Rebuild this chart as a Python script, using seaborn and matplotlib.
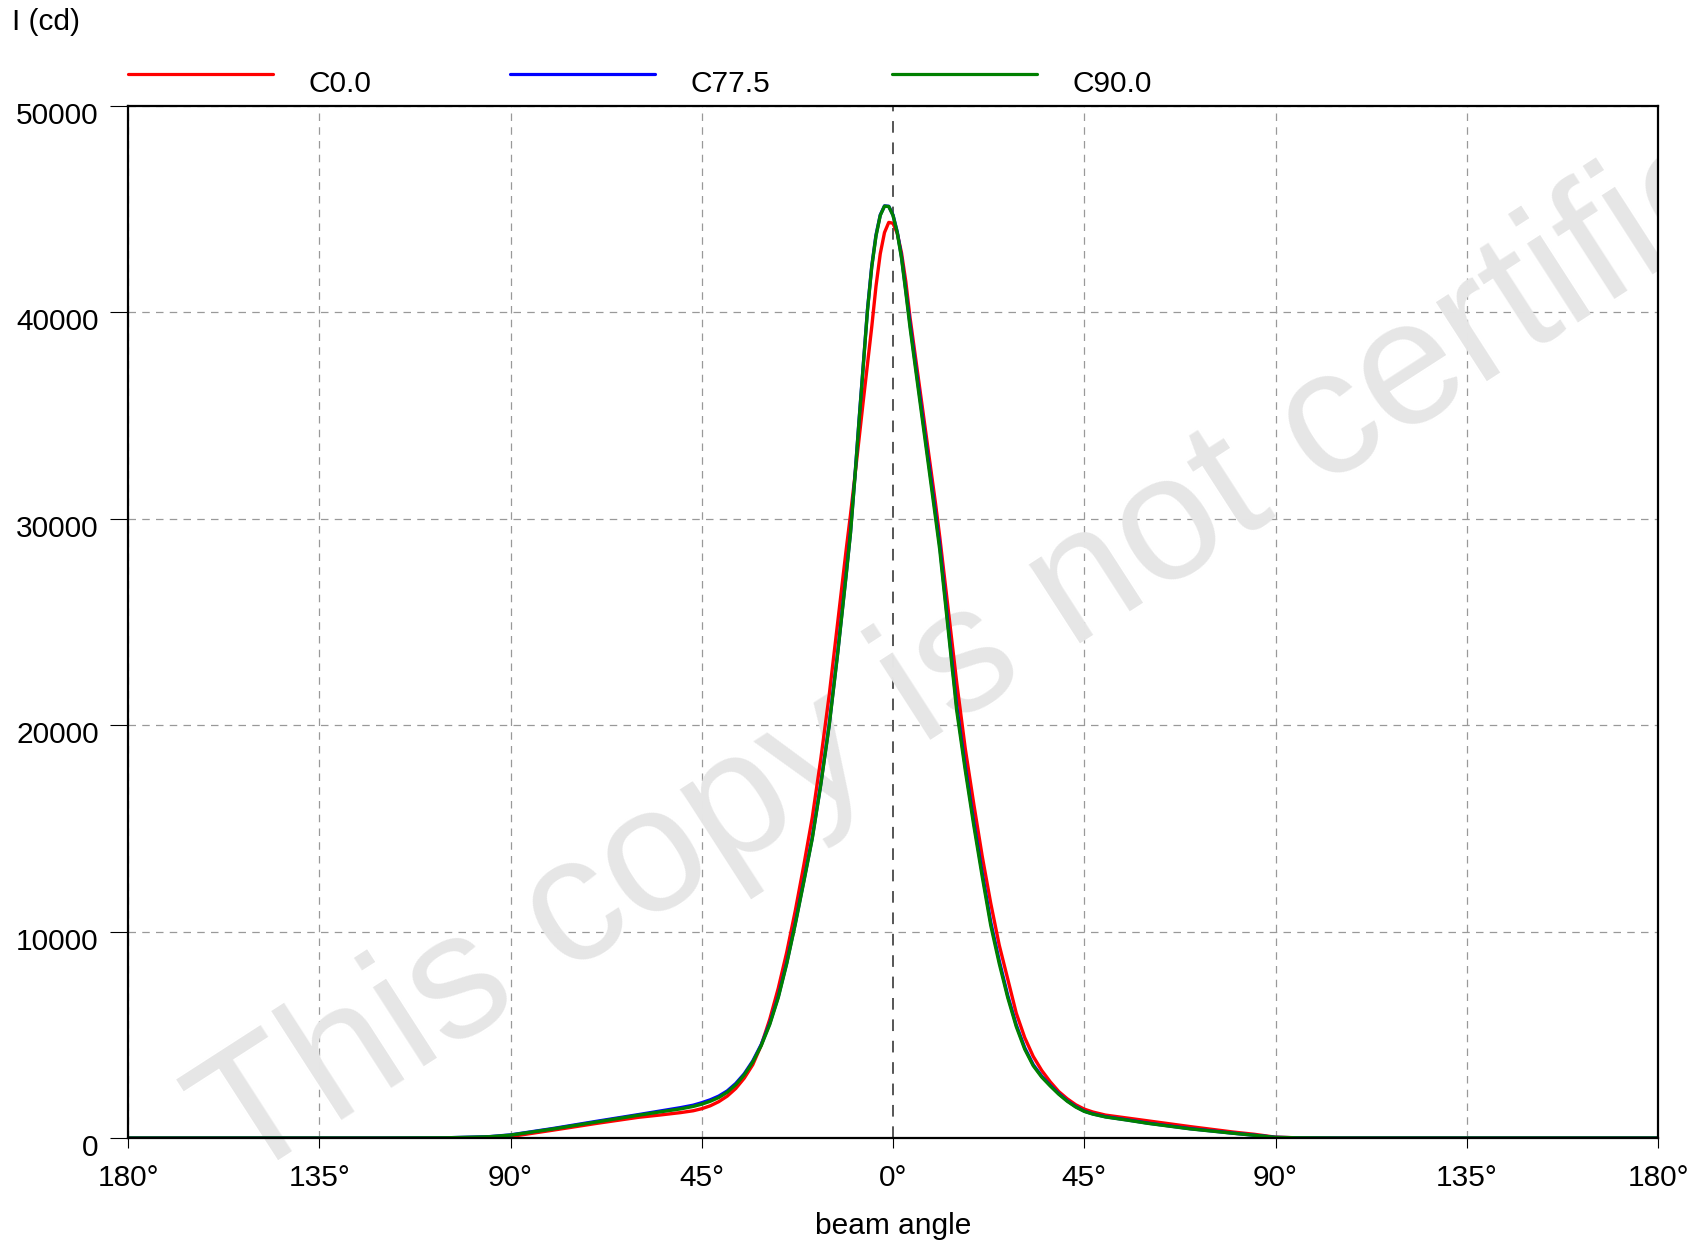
import numpy as np
import pandas as pd
import matplotlib
matplotlib.use('Agg')
import matplotlib.pyplot as plt
import matplotlib.transforms as mtransforms
from matplotlib.lines import Line2D
import seaborn as sns

# beam angle (deg), left half of chart = negative side
angles = [-180, -150, -120, -105, -95, -90, -80, -70, -60, -55,
          -50, -47, -45, -43, -41, -39, -37, -35, -33, -31,
          -29, -27, -25, -23, -21, -19, -17, -15, -13, -11,
          -10, -9, -8, -7, -6, -5, -4, -3, -2, -1,
          0, 1, 2, 3, 4, 5, 6, 7, 8, 9,
          10, 11, 13, 15, 17, 19, 21, 23, 25, 27,
          29, 31, 33, 35, 37, 39, 41, 43, 45, 47,
          50, 55, 60, 70, 80, 85, 90, 95, 105, 120,
          150, 180]

# intensity in cd
c0 = [0, 0, 0, 5, 20, 70, 380, 700, 1000, 1110,
      1230, 1320, 1420, 1560, 1760, 2030, 2400, 2900, 3550, 4500,
      5750, 7250, 9000, 11000, 13200, 15520, 18350, 21480, 25000, 28530,
      30200, 32000, 33850, 35700, 37500, 39300, 41270, 42840, 43870, 44360,
      44320, 43830, 42890, 41510, 39760, 38260, 36760, 35260, 33750, 32250,
      30750, 29120, 25590, 22050, 18870, 16190, 13640, 11370, 9340, 7700,
      6050, 4860, 3950, 3270, 2720, 2250, 1900, 1610, 1400, 1260,
      1110, 970, 830, 550, 290, 180, 40, 10, 0, 0,
      0, 0]
c775 = [0, 0, 0, 10, 65, 150, 460, 800, 1130, 1300,
        1470, 1590, 1710, 1850, 2030, 2280, 2640, 3110, 3730, 4530,
        5550, 6850, 8500, 10400, 12450, 14550, 17150, 20050, 23550, 27350,
        29350, 31950, 34750, 37450, 40150, 42250, 43750, 44720, 45160, 45140,
        44720, 43900, 42700, 41100, 39450, 37900, 36380, 34850, 33320, 31800,
        30260, 28700, 24800, 20900, 18000, 15330, 12830, 10450, 8580, 6900,
        5480, 4370, 3550, 2990, 2550, 2150, 1800, 1520, 1300, 1170,
        1030, 880, 720, 450, 235, 135, 32, 10, 0, 0,
        0, 0]
c90 = [0, 0, 0, 10, 60, 140, 440, 770, 1100, 1260,
       1410, 1530, 1640, 1780, 1960, 2220, 2580, 3060, 3680, 4480,
       5500, 6800, 8450, 10350, 12400, 14500, 17100, 20000, 23500, 27300,
       29300, 31900, 34700, 37400, 40100, 42200, 43700, 44700, 45150, 45130,
       44700, 43860, 42630, 41000, 39280, 37740, 36200, 34670, 33130, 31600,
       30060, 28500, 24600, 20700, 17820, 15150, 12660, 10300, 8450, 6800,
       5400, 4300, 3500, 2950, 2520, 2120, 1780, 1500, 1290, 1160,
       1020, 870, 710, 440, 230, 130, 30, 10, 0, 0,
       0, 0]

planes = ['C0.0', 'C77.5', 'C90.0']
colors = ['#ff0000', '#0000ff', '#008000']
xticks = [-180, -135, -90, -45, 0, 45, 90, 135, 180]
yticks = [0, 10000, 20000, 30000, 40000, 50000]

df = pd.DataFrame({
    'angle': angles * 3,
    'cd': c0 + c775 + c90,
    'plane': np.repeat(planes, len(angles)),
})

sns.set_theme(style='white')
plt.rcParams['font.family'] = ['Liberation Sans', 'DejaVu Sans']
plt.rcParams['text.color'] = 'black'
plt.rcParams['axes.labelcolor'] = 'black'
plt.rcParams['xtick.color'] = 'black'
plt.rcParams['ytick.color'] = 'black'
fs = 21.5

fig = plt.figure(figsize=(16.94, 12.43), dpi=100)
ax = fig.add_axes([128 / 1694, 1 - 1138 / 1243, 1530 / 1694, 1032 / 1243])
ax.set_facecolor('none')

# watermark, cut off at the right frame edge
wm = ax.text(240 / 1694, 1 - 1185 / 1243, 'This copy is not certificated', transform=fig.transFigure,
             rotation=32.8, rotation_mode='anchor', ha='left', va='baseline',
             fontsize=128, color='#e6e6e6', zorder=1)
clip = mtransforms.TransformedBbox(mtransforms.Bbox([[0, 0], [1657 / 1694, 1]]), fig.transFigure)
wm.set_clip_box(clip)
wm.set_clip_on(True)

sns.lineplot(data=df, x='angle', y='cd', hue='plane', palette=colors, hue_order=planes,
             legend=False, lw=2.4, ax=ax, zorder=3, sort=False)
for ln in ax.get_lines():
    ln.set_solid_joinstyle('round')

ax.set_xlim(-180, 180)
ax.set_ylim(0, 50000)
ax.set_xticks(xticks)
ax.set_xticklabels([f'{abs(t)}°' for t in xticks])
ax.set_yticks(yticks)
ax.set_yticklabels([str(t) for t in yticks])
ax.set_xlabel('')
ax.set_ylabel('')

ax.grid(True, color='#999999', lw=0.9, ls=(0, (6, 5)), zorder=1.5)
ax.xaxis.get_gridlines()[4].set_color('#555555')
ax.xaxis.get_gridlines()[4].set_linewidth(1.4)

for sp in ax.spines.values():
    sp.set_color('black')
    sp.set_linewidth(1.6)
    sp.set_zorder(4)

ax.tick_params(axis='y', length=13, width=0.8, pad=8, labelsize=fs, colors='black', direction='out', left=True)
ax.tick_params(axis='x', length=7.5, width=0.8, pad=11, labelsize=fs, colors='black', direction='out', bottom=True)
off = mtransforms.ScaledTranslation(0, -7 / 100, fig.dpi_scale_trans)
for lab in ax.get_yticklabels():
    lab.set_transform(lab.get_transform() + off)

fig.text(12 / 1694, 1 - 22 / 1243, 'I (cd)', ha='left', va='center', fontsize=fs)
fig.text(893 / 1694, 1 - 1226 / 1243, 'beam angle', ha='center', va='center', fontsize=fs)

# legend: key line with the label a bit lower and to the right
leg_x = [128, 510, 892]
for x0, name, col in zip(leg_x, planes, colors):
    fig.add_artist(Line2D([x0 / 1694, (x0 + 145) / 1694], [1 - 73.5 / 1243] * 2,
                          transform=fig.transFigure, color=col, lw=2.3))
    fig.text((x0 + 180) / 1694, 1 - 84 / 1243, name, ha='left', va='center', fontsize=fs)

fig.savefig('out.png', dpi=100)
